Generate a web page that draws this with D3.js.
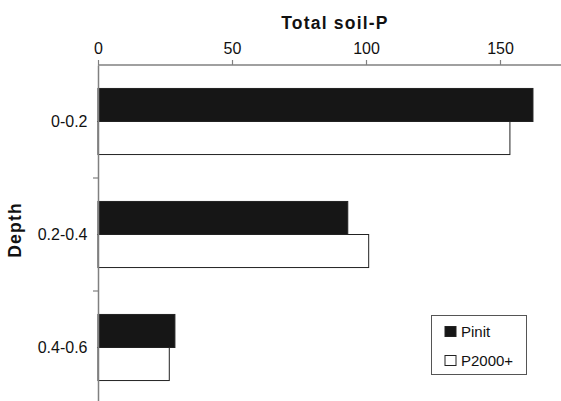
<!DOCTYPE html>
<html><head><meta charset="utf-8">
<script src="https://cdn.jsdelivr.net/npm/d3@7"></script>
<style>body{margin:0;background:#fff}svg{display:block}text{font-family:"Liberation Sans",Arial,Helvetica,sans-serif}</style>
</head><body><svg id="c" width="561" height="401"></svg>
<script>
const categories = ["0-0.2", "0.2-0.4", "0.4-0.6"];
const series = ["Pinit", "P2000+"];
const pinit = [162.3, 93.2, 28.7];
const p2000 = [153.7, 101, 26.6];
const xTicks = [0, 50, 100, 150];

const svg = d3.select("#c");
const x = d3.scaleLinear().domain([0, 100]).range([98, 366]);
const y = d3.scaleBand().domain(categories).range([65, 404]).paddingInner(0).paddingOuter(0);
const inner = d3.scaleBand().domain(series).range([0, y.bandwidth()]).paddingOuter(0.71).paddingInner(0);
const fills = {"Pinit": "#161616", "P2000+": "#ffffff"};
const vals = {"Pinit": pinit, "P2000+": p2000};

// bars
series.forEach(s => {
  svg.append("g").selectAll("rect").data(categories).join("rect")
    .attr("x", x(0))
    .attr("y", c => y(c) + inner(s))
    .attr("width", (c, i) => x(vals[s][i]) - x(0))
    .attr("height", inner.bandwidth())
    .attr("fill", fills[s])
    .attr("stroke", "#222")
    .attr("stroke-width", 1);
});

// x axis on top
const xa = svg.append("g").attr("transform", "translate(0,65)")
  .call(d3.axisTop(x).tickValues(xTicks).tickSize(5).tickSizeOuter(0).tickPadding(6));
xa.select(".domain").attr("d", `M${x(0)},0H561`).attr("stroke", "#808080").attr("stroke-width", 1.5);
xa.selectAll(".tick line").attr("stroke", "#808080").attr("stroke-width", 1.2);
xa.selectAll(".tick text").attr("font-size", 16).attr("fill", "#111");

// y axis
const ya = svg.append("g").attr("transform", `translate(${x(0)},0)`)
  .call(d3.axisLeft(y).tickSize(0).tickPadding(10.5));
ya.select(".domain").attr("stroke", "#808080").attr("stroke-width", 1.5);
ya.selectAll(".tick text").attr("font-size", 16).attr("fill", "#111");
// boundary ticks between bands
svg.append("g").selectAll("line").data(categories.slice(1)).join("line")
  .attr("x1", x(0) - 5).attr("x2", x(0))
  .attr("y1", c => y(c)).attr("y2", c => y(c))
  .attr("stroke", "#808080").attr("stroke-width", 1.2);

// titles
svg.append("text").attr("x", 335).attr("y", 29).attr("text-anchor", "middle")
  .attr("font-size", 17.5).attr("font-weight", "bold").attr("letter-spacing", 1.2).attr("fill", "#111").text("Total soil-P");
svg.append("text").attr("transform", "translate(21,230) rotate(-90)").attr("text-anchor", "middle")
  .attr("font-size", 17.5).attr("font-weight", "bold").attr("letter-spacing", 1.2).attr("fill", "#111").text("Depth");

// legend
const lg = svg.append("g");
lg.append("rect").attr("x", 431.5).attr("y", 315.5).attr("width", 95).attr("height", 59)
  .attr("fill", "#fff").attr("stroke", "#555").attr("stroke-width", 1);
series.forEach((s, i) => {
  lg.append("rect").attr("x", 445).attr("y", 326.5 + i * 29).attr("width", 11).attr("height", 10)
    .attr("fill", fills[s]).attr("stroke", "#222");
  lg.append("text").attr("x", 461).attr("y", 337 + i * 29).attr("font-size", 15).attr("fill", "#111").text(s);
});
</script></body></html>
